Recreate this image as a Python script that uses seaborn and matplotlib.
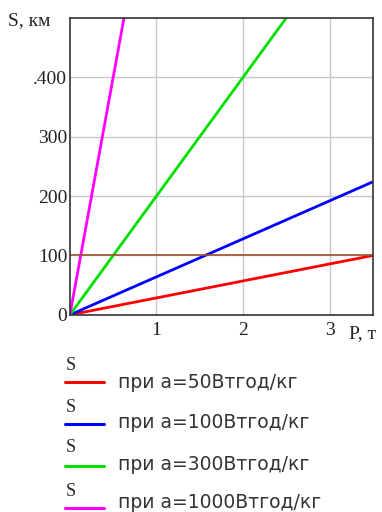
import pandas as pd
import matplotlib.pyplot as plt
import seaborn as sns

# --- данные ---
P = [0.0, 3.5]
S_50 = [0.0, 100.0]
S_100 = [0.0, 224.0]
S_300 = [0.0, 700.0]
S_1000 = [0.0, 2800.0]
S_limit = [100.0, 100.0]

labels = ["при а=50Втгод/кг", "при а=100Втгод/кг",
          "при а=300Втгод/кг", "при а=1000Втгод/кг"]
colors = ["#ff0000", "#0000ff", "#00e000", "#ff00ff"]

rows = []
for lab, vals in zip(labels, [S_50, S_100, S_300, S_1000]):
    for p, s in zip(P, vals):
        rows.append({"P": p, "S": s, "serie": lab})
df = pd.DataFrame(rows)

sns.set_style("white")
plt.rcParams['font.family'] = ['Liberation Serif', 'DejaVu Serif']

fig = plt.figure(figsize=(3.82, 5.12), dpi=100)
ax = fig.add_axes([0.183, 0.385, 0.793, 0.58])

sns.lineplot(data=df, x="P", y="S", hue="serie", hue_order=labels,
             palette=colors, linewidth=2, legend=False, ax=ax)
ax.plot(P, S_limit, color="#a0522d", linewidth=1.2)

ax.set_xlim(0, 3.5)
ax.set_ylim(0, 500)
ax.set_xticks([1, 2, 3])
ax.set_yticks([0, 100, 200, 300, 400])
ax.set_yticklabels(["0", "100", "200", "300", ".400"])
ax.grid(True, color="#c8c8c8", linewidth=1)
ax.tick_params(axis="y", length=0, labelsize=14, colors="#222222", pad=2)
ax.tick_params(axis="x", length=0, labelsize=14, colors="#222222", pad=5)
ax.set_xlabel("")
ax.set_ylabel("")
for sp in ax.spines.values():
    sp.set_color("#333333")
    sp.set_linewidth(1.2)

fig.text(8 / 382, 1 - 21 / 512, "S, км", fontsize=14, va="center", ha="left")
fig.text(349 / 382, 1 - 334 / 512, "P, т", fontsize=14, va="center", ha="left")

# легенда в стиле Mathcad
s_y = [365, 407, 448, 491]
line_y = [382, 424, 466, 508]
text_y = [383, 423, 465, 502]
for lab, c, ys, yl, yt in zip(labels, colors, s_y, line_y, text_y):
    fig.text(66 / 382, 1 - ys / 512, "S", fontsize=13, va="center", ha="left")
    fig.add_artist(plt.Line2D([65 / 382, 104 / 382], [1 - yl / 512, 1 - yl / 512],
                              color=c, linewidth=2.2))
    fig.text(118 / 382, 1 - yt / 512, lab, fontsize=13.5, va="center", ha="left",
             family=["DejaVu Sans"], color="#333333")

fig.savefig("out.png", dpi=100)
